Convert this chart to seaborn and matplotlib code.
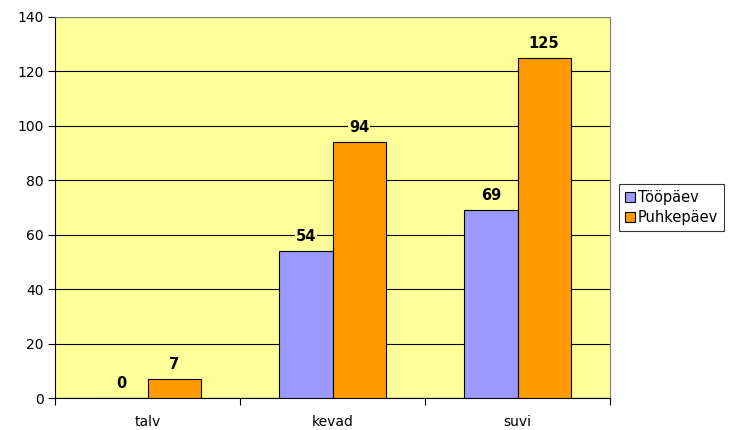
import matplotlib
matplotlib.use("Agg")
import matplotlib.pyplot as plt
import seaborn as sns
import pandas as pd

categories = ["talv", "kevad", "suvi"]
series = ["Tööpäev", "Puhkepäev"]
too_paev = [0, 54, 69]
puhke_paev = [7, 94, 125]
colors = ["#9999FF", "#FF9900"]

df = pd.DataFrame({
    "season": categories * 2,
    "series": [series[0]] * 3 + [series[1]] * 3,
    "value": too_paev + puhke_paev,
})

sns.set_style("white")
plt.rcParams["font.family"] = ["DejaVu Sans"]
plt.rcParams["text.color"] = "black"
plt.rcParams["xtick.color"] = "black"
plt.rcParams["ytick.color"] = "black"

fig = plt.figure(figsize=(7.3, 4.3), dpi=100)
ax = fig.add_axes([55 / 730, 1 - 398 / 430, 555 / 730, 381 / 430])
ax.set_facecolor("#FFFF99")

sns.barplot(data=df, x="season", y="value", hue="series", palette=colors,
            saturation=1, width=0.575, edgecolor="black", linewidth=0.8,
            ax=ax, zorder=3, legend=True)

ax.set_ylim(0, 140)
ax.set_xlim(-0.5, 2.5)
ax.set_yticks(range(0, 141, 20))
ax.yaxis.grid(True, color="black", linewidth=0.8, zorder=0)
ax.set_axisbelow(True)
ax.set_xlabel("")
ax.set_ylabel("")
ax.set_xticks([0, 1, 2])
ax.set_xticklabels(categories)
ax.tick_params(axis="x", length=0, labelsize=10, pad=12, labelcolor="black")
ax.tick_params(axis="y", length=5, width=0.8, labelsize=10, left=True,
               color="black", labelcolor="black", pad=3)
ax.set_xticks([-0.5, 0.5, 1.5, 2.5], minor=True)
ax.tick_params(axis="x", which="minor", length=5, width=0.8, bottom=True, color="black")

for side in ["top", "right"]:
    ax.spines[side].set_color("#808080")
    ax.spines[side].set_linewidth(0.8)
for side in ["left", "bottom"]:
    ax.spines[side].set_color("black")
    ax.spines[side].set_linewidth(0.8)

for cont in ax.containers:
    ax.bar_label(cont, fmt="%d", padding=5, fontsize=10.5, fontweight="bold",
                 color="black",
                 bbox=dict(facecolor="#FFFF99", edgecolor="none", pad=0.5))

leg = ax.legend(loc="center left", bbox_to_anchor=(1.016, 0.5), frameon=True,
                fontsize=10.5, fancybox=False, edgecolor="black",
                handlelength=0.7, handleheight=0.7, handletextpad=0.2,
                borderpad=0.4, labelspacing=0.35, borderaxespad=0)
leg.get_frame().set_linewidth(0.8)
for t in leg.get_texts():
    t.set_color("black")

fig.savefig("out.png", dpi=100)
